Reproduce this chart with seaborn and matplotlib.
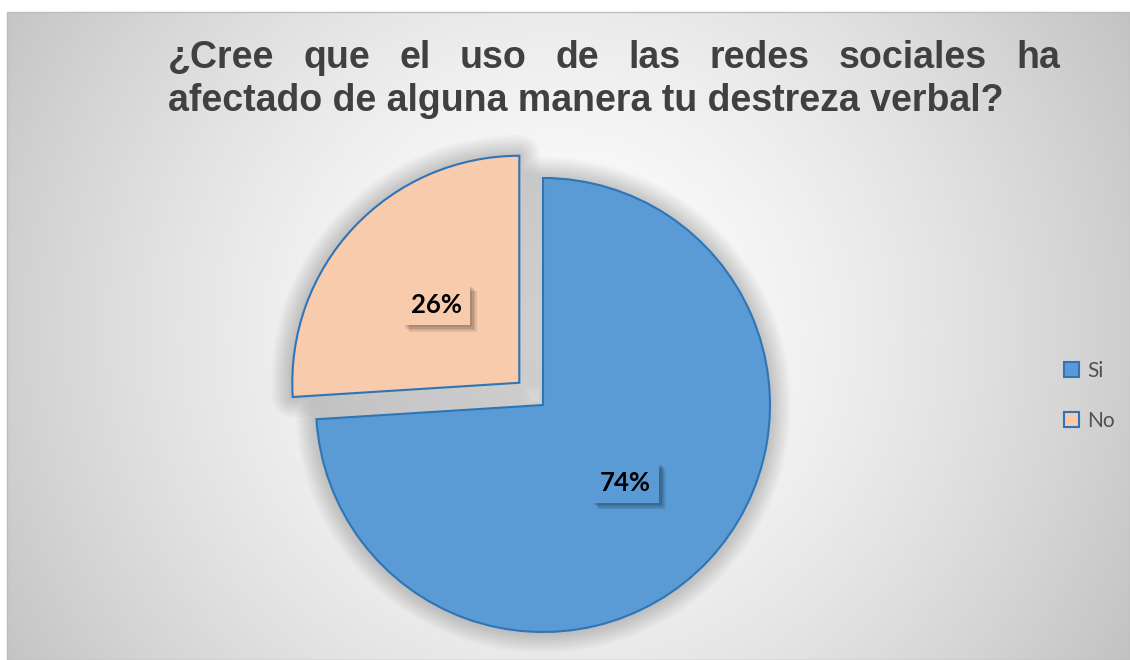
import numpy as np
import seaborn as sns
import matplotlib.pyplot as plt
from matplotlib import patheffects as pe
from matplotlib.patches import Patch, Rectangle

# data
categories = ["Si", "No"]
shares = [74, 26]
title_line1 = "¿Cree que el uso de las redes sociales ha"
title_line2 = "afectado de alguna manera tu destreza verbal?"

sns.set_theme(style="white")
plt.rcParams['font.family'] = ['Liberation Sans', 'DejaVu Sans']

W, H = 1130, 660
fig = plt.figure(figsize=(W / 100, H / 100), dpi=100)
ax = fig.add_axes([0, 0, 1, 1])

# radial grey background of the chart area
x0, x1, y0, y1 = 7, W, 12, H
xx, yy = np.meshgrid(np.linspace(x0, x1, 450), np.linspace(y0, y1, 260))
cx, cy = 560, 330
d = np.hypot(xx - cx, yy - cy) / 645
v = 1 - (1 - 0.77) * np.clip(d, 0, 1.2) ** 1.5
ax.imshow(np.dstack([v, v, v]), extent=[x0, x1, H - y1, H - y0], origin='upper',
          aspect='auto', zorder=0, interpolation='bilinear')
ax.add_patch(Rectangle((x0, H - y1), x1 - x0, y1 - y0, fill=False, edgecolor='#bdbdbd', lw=1, zorder=1))

pal = sns.color_palette(["#5B9BD5", "#F8CBAD"])
edge = "#2E75B6"
wedges, texts, autotexts = ax.pie(
    shares, colors=pal, startangle=90, counterclock=False,
    explode=[0, 32.5], radius=227, center=(543, H - 405), frame=True,
    autopct='%1.0f%%', pctdistance=0.5,
    wedgeprops=dict(edgecolor=edge, linewidth=1.5),
    textprops=dict(family=['Lato', 'DejaVu Sans'], fontsize=18.5, fontweight='bold', color='black'))

# soft outer shadow around the slices
glow = [pe.Stroke(linewidth=w, foreground='black', alpha=0.02, joinstyle='round')
        for w in range(30, 2, -3)]
for w in wedges:
    w.set_path_effects(glow + [pe.Normal()])
    w.set_zorder(2)

# label boxes with a blurred drop shadow
box_shadow = [pe.withSimplePatchShadow(offset=(o, -o), shadow_rgbFace='black', alpha=0.09)
              for o in (4.5, 3.5, 2.5, 1.5)]
for t, c in zip(autotexts, pal):
    t.set_bbox(dict(boxstyle='square,pad=0.32', facecolor=c, edgecolor='none'))
    t.get_bbox_patch().set_path_effects(box_shadow + [pe.Normal()])
    t.set_zorder(5)

ax.set_xlim(0, W)
ax.set_ylim(0, H)
ax.set_aspect('auto')
ax.axis('off')

# justified title (first line spread to the full width)
tkw = dict(fontsize=27, fontweight='bold', color='#404040', va='baseline', ha='left', zorder=6)
fig.canvas.draw()
renderer = fig.canvas.get_renderer()
words = title_line1.split()
widths = []
for wd in words:
    tmp = ax.text(0, 0, wd, **tkw)
    widths.append(tmp.get_window_extent(renderer).width)
    tmp.remove()
left, right = 168, 1060
gap = (right - left - sum(widths)) / (len(words) - 1)
xpos = left
for wd, wdt in zip(words, widths):
    ax.text(xpos, H - 68, wd, **tkw)
    xpos += wdt + gap
ax.text(left, H - 111, title_line2, **tkw)

handles = [Patch(facecolor=c, edgecolor=edge, linewidth=1.5) for c in pal]
fig.legend(handles, categories, loc='upper left', bbox_to_anchor=(1064 / W, 1 - 361 / H),
           frameon=False, borderpad=0, borderaxespad=0, handlelength=0.72, handleheight=0.72,
           handletextpad=0.4, labelspacing=1.45,
           prop=dict(family=['Lato', 'DejaVu Sans'], size=15), labelcolor='#505050')

fig.savefig('out.png', dpi=100)
